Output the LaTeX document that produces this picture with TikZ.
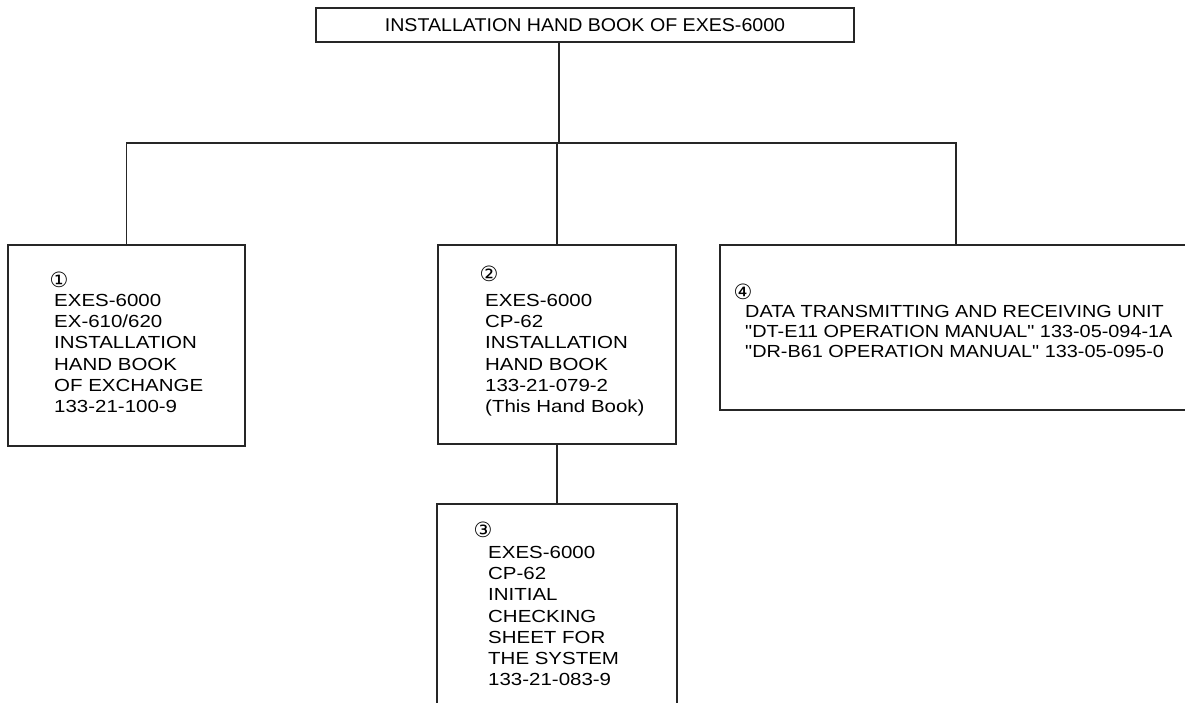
\documentclass[tikz,border=0pt]{standalone}
\usepackage{fontspec}
\setmainfont{Liberation Sans}
\newfontfamily\boxfont{Liberation Sans}[FakeStretch=1.17]
\newfontfamily\widefont{Liberation Sans}[FakeStretch=1.135]
\newfontfamily\topfont{Liberation Sans}[FakeStretch=1.06]
\newfontfamily\circfont{DejaVu Sans}
\begin{document}
\begin{tikzpicture}[x=1pt,y=-1pt,
  box/.style={draw=black!85, line width=1.1pt, rectangle, inner sep=0pt, fill=none},
  wire/.style={draw=black!85, line width=1.1pt},
  txt/.style={anchor=north west, inner sep=0pt, align=left, font={\boxfont\fontsize{17.5}{21.3}\selectfont}},
  txtw/.style={anchor=north west, inner sep=0pt, align=left, font={\widefont\fontsize{17.5}{20}\selectfont}},
  num/.style={inner sep=0pt, font={\circfont\fontsize{21}{21}\selectfont}}]
\useasboundingbox (0,0) rectangle (1185,702);
% boxes
\node[box, minimum width=538pt, minimum height=34pt, font={\topfont\fontsize{18.5}{20}\selectfont}] (top) at (585,25) {INSTALLATION HAND BOOK OF EXES-6000};
\node[box, minimum width=237pt, minimum height=201pt] (b1) at (126.5,345.5) {};
\node[box, minimum width=238pt, minimum height=199pt] (b2) at (557,344.5) {};
\node[box, minimum width=240pt, minimum height=226pt] (b3) at (557,617) {};
\node[box, minimum width=472pt, minimum height=165pt] (b4) at (956,327.5) {};
% connectors
\coordinate (bus) at (559,143);
\draw[wire] (top.south -| bus) -- (bus);
\draw[wire] (b1.north) -- (b1.north |- bus) -- (b4.north |- bus) -- (b4.north);
\draw[wire] (b2.north) -- (b2.north |- bus);
\draw[wire] (b2.south) -- (b3.north);
% texts
\node[num] (n1) at (59,280) {①};
\node[txt] (t1) at (54,293.7) {EXES-6000\\EX-610/620\\INSTALLATION\\HAND BOOK\\OF EXCHANGE\\133-21-100-9};
\node[num] (n2) at (489,274) {②};
\node[txt] (t2) at (485,293.7) {EXES-6000\\CP-62\\INSTALLATION\\HAND BOOK\\133-21-079-2\\(This Hand Book)};
\node[num] (n3) at (483,530) {③};
\node[txt] (t3) at (488,545.7) {EXES-6000\\CP-62\\INITIAL\\CHECKING\\SHEET FOR\\THE SYSTEM\\133-21-083-9};
\node[num] (n4) at (743,292) {④};
\node[txtw] (t4) at (745,304.7) {DATA TRANSMITTING AND RECEIVING UNIT\\"DT-E11 OPERATION MANUAL" 133-05-094-1A\\"DR-B61 OPERATION MANUAL" 133-05-095-0};
\end{tikzpicture}
\end{document}
